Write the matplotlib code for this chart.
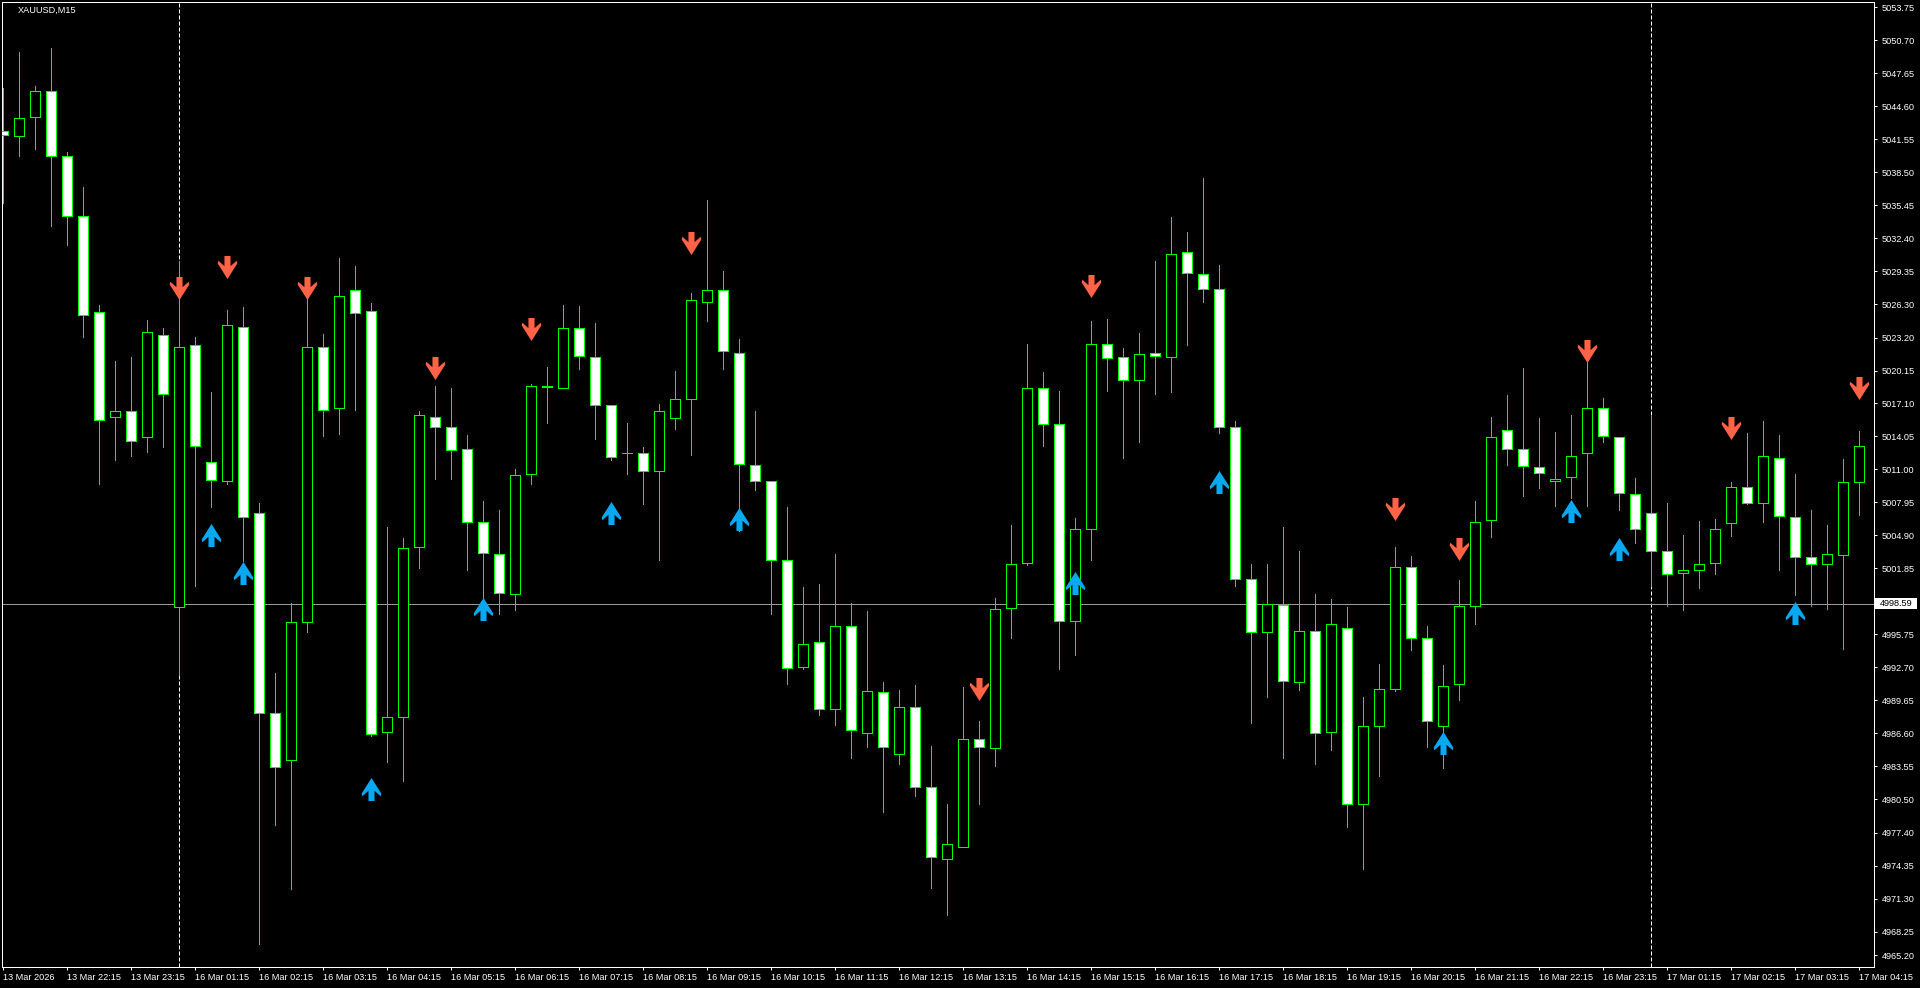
import numpy as np
import matplotlib
matplotlib.use("Agg")
import matplotlib.pyplot as plt
from matplotlib.path import Path
from matplotlib.patches import Rectangle
from matplotlib.transforms import blended_transform_factory

plt.rcParams['font.family'] = ['Liberation Sans', 'DejaVu Sans']

chart_title = "XAUUSD,M15"

opens = [5042.32, 5041.83, 5043.64, 5046.05, 5039.97, 5034.48, 5025.59, 5015.83, 5016.43, 5013.96,
         5023.40, 4998.28, 5022.47, 5011.66, 5009.96, 5024.22, 5007.00, 4988.51, 4984.12, 4996.90,
         5022.36, 5016.65, 5027.57, 5025.70, 4986.70, 4988.07, 5003.87, 5015.88, 5014.90, 5012.87,
         5006.18, 5003.21, 4999.43, 5010.56, 5018.68, 5018.52, 5024.06, 5021.37, 5016.98, 5012.48,
         5012.48, 5010.84, 5015.72, 5017.48, 5026.53, 5027.57, 5021.75, 5011.44, 5009.91, 5002.66,
         4992.68, 4994.99, 4988.84, 4996.47, 4986.59, 4990.38, 4984.67, 4989.06, 4981.66, 4974.96,
         4976.06, 4986.10, 4985.22, 4998.17, 5002.34, 5018.57, 5015.17, 4997.01, 5005.46, 5022.58,
         5021.42, 5019.29, 5021.81, 5021.42, 5031.08, 5029.10, 5027.68, 5014.90, 5000.91, 4995.92,
         4998.44, 4991.31, 4996.03, 4986.70, 4996.36, 4980.01, 4987.25, 4990.65, 5001.95, 4995.37,
         4987.25, 4991.15, 4998.39, 5006.29, 5014.62, 5012.87, 5011.22, 5009.91, 5010.29, 5012.48,
         5016.65, 5014.02, 5008.70, 5006.94, 5003.49, 5001.40, 5001.73, 5002.34, 5006.07, 5009.36,
         5007.88, 5012.10, 5006.56, 5002.94, 5002.23, 5003.10, 5009.80]
highs = [5046.27, 5049.62, 5046.44, 5050.00, 5040.40, 5037.11, 5026.20, 5021.04, 5021.42, 5024.83,
         5024.11, 5030.26, 5023.29, 5018.19, 5025.76, 5026.03, 5007.93, 4992.19, 4998.61, 5027.30,
         5023.51, 5030.59, 5029.82, 5026.42, 5005.68, 5004.69, 5016.43, 5018.74, 5018.52, 5014.18,
         5008.04, 5007.22, 5011.00, 5018.90, 5020.49, 5026.20, 5026.14, 5024.55, 5016.98, 5015.28,
         5013.09, 5017.09, 5020.11, 5027.35, 5035.91, 5029.38, 5023.07, 5016.43, 5009.91, 5007.55,
         5000.14, 5000.42, 5003.21, 4998.61, 4997.89, 4991.31, 4990.60, 4991.09, 4985.44, 4980.06,
         4990.87, 4987.74, 4999.15, 5005.85, 5022.63, 5020.00, 5018.24, 5006.50, 5024.72, 5024.94,
         5022.25, 5023.62, 5030.31, 5034.37, 5032.94, 5037.94, 5029.93, 5015.45, 5002.28, 5002.28,
         5005.68, 5003.49, 4999.48, 4999.04, 4998.28, 4989.94, 4993.01, 5003.82, 5002.99, 4996.52,
         4992.90, 5000.80, 5008.10, 5015.88, 5017.91, 5020.38, 5015.78, 5014.46, 5016.05, 5020.93,
         5017.64, 5014.02, 5010.23, 5015.94, 5007.93, 5004.97, 5006.23, 5006.45, 5009.85, 5014.40,
         5015.50, 5014.18, 5010.56, 5007.27, 5005.85, 5011.99, 5014.57]
lows = [5035.63, 5039.97, 5040.62, 5033.49, 5031.74, 5023.24, 5009.63, 5011.83, 5012.21, 5012.59,
        5013.03, 4991.97, 5000.20, 5007.49, 5009.69, 5002.55, 4967.06, 4978.09, 4972.17, 4995.92,
        5014.13, 5014.24, 5016.54, 4986.37, 4983.90, 4982.15, 5001.84, 5010.07, 5010.07, 5001.68,
        4999.00, 4997.62, 4997.95, 5009.63, 5015.28, 5018.52, 5020.27, 5013.86, 5011.83, 5010.56,
        5007.77, 5002.66, 5014.73, 5012.32, 5024.77, 5020.27, 5005.30, 5009.08, 4997.62, 4991.15,
        4992.57, 4988.24, 4987.36, 4984.29, 4985.28, 4979.30, 4983.74, 4980.78, 4972.27, 4969.75,
        4976.06, 4980.01, 4983.52, 4995.37, 5002.12, 5013.14, 4992.52, 4993.83, 5002.66, 5018.30,
        5012.10, 5013.58, 5017.97, 5018.13, 5022.47, 5026.53, 5014.35, 5000.20, 4987.52, 4989.94,
        4984.29, 4990.60, 4983.74, 4985.00, 4977.93, 4974.03, 4982.64, 4990.49, 4994.27, 4985.28,
        4983.36, 4989.66, 4996.69, 5004.75, 5011.44, 5008.53, 5009.25, 5007.60, 5008.37, 5007.60,
        5013.58, 5007.22, 5004.15, 5000.20, 4998.33, 4997.95, 5000.03, 5001.29, 5004.80, 5007.80,
        5006.18, 5001.68, 4999.37, 4998.33, 4998.06, 4994.38, 5006.83]
closes = [5041.94, 5043.53, 5046.05, 5040.02, 5034.48, 5025.26, 5015.56, 5016.43, 5013.63, 5023.67,
          5017.97, 5022.36, 5013.14, 5010.02, 5024.33, 5006.56, 4988.51, 4983.47, 4996.90, 5022.36,
          5016.49, 5027.02, 5025.43, 4986.48, 4988.07, 5003.76, 5015.99, 5014.95, 5012.81, 5006.12,
          5003.27, 4999.54, 5010.51, 5018.68, 5018.58, 5024.06, 5021.48, 5016.98, 5012.15, 5012.48,
          5010.84, 5016.38, 5017.48, 5026.64, 5027.57, 5021.92, 5011.50, 5009.96, 5002.66, 4992.63,
          4994.88, 4988.84, 4996.47, 4986.87, 4990.49, 4985.28, 4989.01, 4981.60, 4975.18, 4976.33,
          4986.10, 4985.28, 4998.06, 5002.23, 5018.57, 5015.23, 4997.01, 5005.52, 5022.58, 5021.31,
          5019.29, 5021.64, 5021.53, 5030.97, 5029.21, 5027.73, 5014.90, 5000.91, 4995.92, 4998.55,
          4991.42, 4996.03, 4986.59, 4996.69, 4980.06, 4987.25, 4990.65, 5001.95, 4995.42, 4987.69,
          4990.93, 4998.33, 5006.18, 5014.02, 5012.92, 5011.33, 5010.67, 5010.12, 5012.26, 5016.65,
          5014.07, 5008.86, 5005.46, 5003.43, 5001.35, 5001.68, 5002.28, 5005.46, 5009.41, 5007.93,
          5012.21, 5006.72, 5002.94, 5002.28, 5003.16, 5009.80, 5013.14]

# signal arrows (bar index, price)
sell_idx = [11, 14, 19, 27, 33, 43, 61, 68, 87, 91, 99, 108, 116]
sell_price = [5027.79, 5029.68, 5027.76, 5020.35, 5024.03, 5031.98, 4990.65, 5027.93,
              5007.30, 5003.68, 5022.00, 5014.81, 5018.49]
buy_idx = [13, 15, 23, 30, 38, 46, 67, 76, 90, 98, 101, 112]
buy_price = [5004.89, 5001.46, 4981.44, 4998.11, 5006.94, 5006.37, 5000.47, 5009.80,
             4985.71, 5007.19, 5003.68, 4997.76]

# session separators (bar index where a new day starts)
day_start_idx = [11, 103]

current_price = 4998.59

time_tick_idx = [0, 4, 8] + list(range(12, 101, 4)) + [104, 108, 112, 116]
time_tick_labels = (["13 Mar 2026", "13 Mar 22:15", "13 Mar 23:15"]
                    + ["16 Mar %02d:15" % h for h in range(1, 24)]
                    + ["17 Mar 01:15", "17 Mar 02:15", "17 Mar 03:15", "17 Mar 04:15"])

price_tick_values = [5053.75, 5050.70, 5047.65, 5044.60, 5041.55, 5038.50, 5035.45, 5032.40,
                     5029.35, 5026.30, 5023.20, 5020.15, 5017.10, 5014.05, 5011.00, 5007.95,
                     5004.90, 5001.85, 4995.75, 4992.70, 4989.65, 4986.60, 4983.55, 4980.50,
                     4977.40, 4974.35, 4971.30, 4968.25, 4965.20]

# ---------------- drawing ----------------
W, H = 1920, 988
fig = plt.figure(figsize=(W / 100, H / 100), dpi=100)
fig.patch.set_facecolor('black')
ax_l, ax_r, ax_t, ax_b = 2.3, 1874.0, 2.3, 967.0
ax = fig.add_axes([ax_l / W, 1 - ax_b / H, (ax_r - ax_l) / W, (ax_b - ax_t) / H])
ax.set_facecolor('black')

px_per_bar = 16.0
px_per_price = 10.81
axw = ax_r - ax_l
axh = ax_b - ax_t
x0 = -1.0 / px_per_bar
ax.set_xlim(x0, x0 + axw / px_per_bar)
ytop = price_tick_values[0] + 5.0 / px_per_price
ybot = ytop - axh / px_per_price
ax.set_ylim(ybot, ytop)

LIME = '#00FF00'
LW = 0.72  # 1 px

o = np.array(opens); h = np.array(highs); l = np.array(lows); c = np.array(closes)
x = np.arange(len(o))
bull = c >= o

# separators and price line
for d in day_start_idx:
    ax.axvline(d, color='white', lw=LW, ls=(0, (4, 2)), zorder=1)
ax.axhline(current_price, color='#9a9a9a', lw=LW, zorder=1)

# wicks
ax.vlines(x, l, h, colors=LIME, lw=LW, zorder=2, antialiased=False)
# bodies
bottoms = np.minimum(o, c)
heights = np.abs(c - o)
faces = ['black' if b else 'white' for b in bull]
ax.bar(x, heights, bottom=bottoms, width=0.62, color=faces, edgecolor=LIME,
       linewidth=LW, zorder=3, antialiased=False)

# arrow markers
down_verts = [(-9, 34), (9, 34), (9, 4), (27, 20), (29, 12), (0, -34), (-29, 12), (-27, 20), (-9, 4), (-9, 34)]
down_codes = [Path.MOVETO] + [Path.LINETO] * 8 + [Path.CLOSEPOLY]
down_path = Path(down_verts, down_codes)
up_path = Path([(vx, -vy) for vx, vy in down_verts], down_codes)
ax.plot(sell_idx, sell_price, ls='none', marker=down_path, markersize=16.6,
        color='#FF6347', markeredgewidth=0, zorder=5)
ax.plot(buy_idx, buy_price, ls='none', marker=up_path, markersize=16.6,
        color='#0AA8F0', markeredgewidth=0, zorder=5)

# spines
for s in ax.spines.values():
    s.set_color('white')
    s.set_linewidth(LW)

FS = 6.6
# x axis
ax.set_xticks(time_tick_idx)
ax.set_xticklabels(time_tick_labels, ha='left')
ax.tick_params(axis='x', colors='white', length=2.4, width=LW, pad=2.2, labelsize=FS, direction='out')
for t in ax.get_xticklabels():
    t.set_clip_on(False)

# y axis on right
ax.yaxis.tick_right()
ytick_pos = list(price_tick_values[:-1]) + [ybot + 12.0 / px_per_price]
ax.set_yticks(ytick_pos)
ax.set_yticklabels(["%.2f" % v for v in price_tick_values])
ax.tick_params(axis='y', colors='white', length=2.4, width=LW, pad=3.0, labelsize=FS, direction='out')

# current price tag
bt = blended_transform_factory(ax.transAxes, ax.transData)
ax.add_patch(Rectangle((1 + 1.0 / axw, current_price - 5.5 / px_per_price), 42.0 / axw,
                       11.0 / px_per_price, transform=bt, facecolor='white', edgecolor='none',
                       clip_on=False, zorder=6))
ax.text(1 + 6.0 / axw, current_price, "%.2f" % current_price, transform=bt, ha='left',
        va='center', color='black', fontsize=FS, clip_on=False, zorder=7)

fig.text(18 / W, 1 - 10.7 / H, chart_title, ha='left', va='center', color='white', fontsize=FS)

fig.savefig('out.png', dpi=100, facecolor='black')
